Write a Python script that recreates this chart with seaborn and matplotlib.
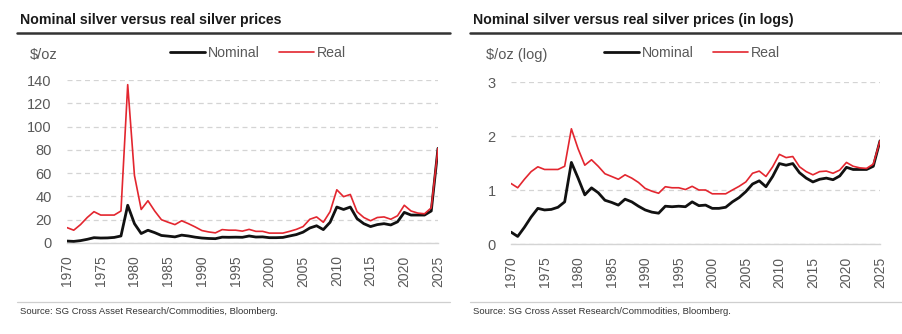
import matplotlib
matplotlib.use("Agg")
import matplotlib.pyplot as plt
from matplotlib.lines import Line2D
import numpy as np
import pandas as pd
import seaborn as sns

# Annual silver prices, $/oz
years = list(range(1970, 2026))
nominal = [1.66, 1.38, 2.04, 3.16, 4.57, 4.27, 4.37, 4.79, 6.03, 32.4,
           16.6, 8.13, 10.96, 8.91, 6.46, 5.89, 5.25, 6.76, 6.03, 5.01,
           4.27, 3.89, 3.72, 5.01, 4.90, 5.01, 4.90, 6.03, 5.13, 5.25,
           4.57, 4.57, 4.79, 6.03, 7.24, 9.33, 12.9, 14.8, 11.5, 17.8,
           30.9, 28.8, 30.9, 20.9, 16.6, 14.1, 15.8, 16.6, 15.5, 18.2,
           26.3, 24.0, 24.0, 24.0, 27.5, 81.3]
real = [13.2, 11.0, 15.8, 21.9, 26.9, 24.0, 24.0, 24.0, 27.5, 136.0,
        58.0, 28.8, 36.3, 27.5, 20.0, 17.8, 15.8, 19.1, 16.6, 13.8,
        10.7, 9.5, 8.7, 11.5, 11.0, 11.0, 10.2, 11.7, 10.0, 10.0,
        8.5, 8.5, 8.5, 10.0, 11.7, 14.1, 20.4, 22.4, 17.8, 26.9,
        45.7, 39.8, 41.7, 26.9, 21.9, 19.1, 21.9, 22.4, 20.4, 23.4,
        32.4, 27.5, 25.7, 25.1, 30.2, 81.3]

titles = ["Nominal silver versus real silver prices",
          "Nominal silver versus real silver prices (in logs)"]
unit_labels = ["$/oz", "$/oz (log)"]
y_ticks = [[0, 20, 40, 60, 80, 100, 120, 140], [0, 1, 2, 3]]
x_ticks = list(range(1970, 2030, 5))
source = "Source: SG Cross Asset Research/Commodities, Bloomberg."

df = pd.DataFrame({"year": years, "Nominal": nominal, "Real": real})
df_log = df.copy()
df_log["Nominal"] = np.log10(df_log["Nominal"])
df_log["Real"] = np.log10(df_log["Real"])

sns.set_style("white")
plt.rcParams["font.family"] = ["Liberation Sans", "DejaVu Sans"]

W, H = 903, 334
fig = plt.figure(figsize=(W / 100, H / 100), dpi=100)

BLACK = "#111111"
RED = "#e3262f"
GREY_TXT = "#595959"
GRID = "#d4d4d4"


def fx(px):
    return px / W


def fy(py):
    return 1 - py / H


panels = [
    # plot box (left, right, top, bottom) in pixels, panel x-range, data
    dict(box=(67, 438, 80, 243), span=(17, 450), data=df, ylim=(0, 140)),
    dict(box=(511, 880, 82, 244), span=(470, 903), data=df_log, ylim=(0, 3)),
]

for i, p in enumerate(panels):
    l, r, t, b = p["box"]
    ax = fig.add_axes([fx(l), fy(b), fx(r - l), (b - t) / H])
    d = p["data"]
    sns.lineplot(data=d, x="year", y="Nominal", ax=ax, color=BLACK,
                 linewidth=2.0, zorder=3)
    sns.lineplot(data=d, x="year", y="Real", ax=ax, color=RED,
                 linewidth=1.2, zorder=4)
    ax.set_xlim(1970, 2025)
    ax.set_ylim(*p["ylim"])
    ax.set_xticks(x_ticks)
    ax.set_yticks(y_ticks[i])
    ax.set_xlabel("")
    ax.set_ylabel("")
    ax.yaxis.grid(True, color=GRID, linestyle=(0, (4, 3)), linewidth=0.9)
    ax.set_axisbelow(True)
    for s in ["left", "right", "top"]:
        ax.spines[s].set_visible(False)
    ax.spines["bottom"].set_color(GRID)
    ax.spines["bottom"].set_linewidth(1.0)
    ax.tick_params(axis="x", direction="out", length=3, width=0.8,
                   color=GRID, labelcolor=GREY_TXT, labelsize=10,
                   rotation=90, pad=6)
    ax.tick_params(axis="y", length=0, labelcolor=GREY_TXT, labelsize=10.5,
                   pad=11)
    ax.set_facecolor("none")

    x0, x1 = p["span"]
    # title, heavy rule beneath it
    fig.text(fx(x0 + 3), fy(20), titles[i], fontsize=10.2, fontweight="bold",
             color="#1a1a1a", va="center", ha="left")
    fig.add_artist(Line2D([fx(x0), fx(x1)], [fy(33), fy(33)],
                          color="#333333", linewidth=1.8))
    # unit label above the y axis
    fig.text(fx(l - 37 if i == 0 else l - 25), fy(55), unit_labels[i],
             fontsize=10.5, color=GREY_TXT, va="center", ha="left")
    # legend
    handles = [Line2D([], [], color=BLACK, linewidth=2.0),
               Line2D([], [], color=RED, linewidth=1.2)]
    lx = 170 if i == 0 else 604
    ax.legend(handles, ["Nominal", "Real"], loc="center left",
              bbox_to_anchor=(fx(lx), fy(53)), bbox_transform=fig.transFigure,
              ncol=2, frameon=False, fontsize=10.2, labelcolor=GREY_TXT,
              handlelength=2.5, handletextpad=0.2, columnspacing=1.3,
              borderpad=0, borderaxespad=0)
    # thin rule and source note
    fig.add_artist(Line2D([fx(x0), fx(x1)], [fy(302), fy(302)],
                          color="#cfcfcf", linewidth=0.9))
    fig.text(fx(x0 + 3), fy(311), source, fontsize=6.8, color="#333333",
             va="center", ha="left")

fig.savefig("out.png", dpi=100)
